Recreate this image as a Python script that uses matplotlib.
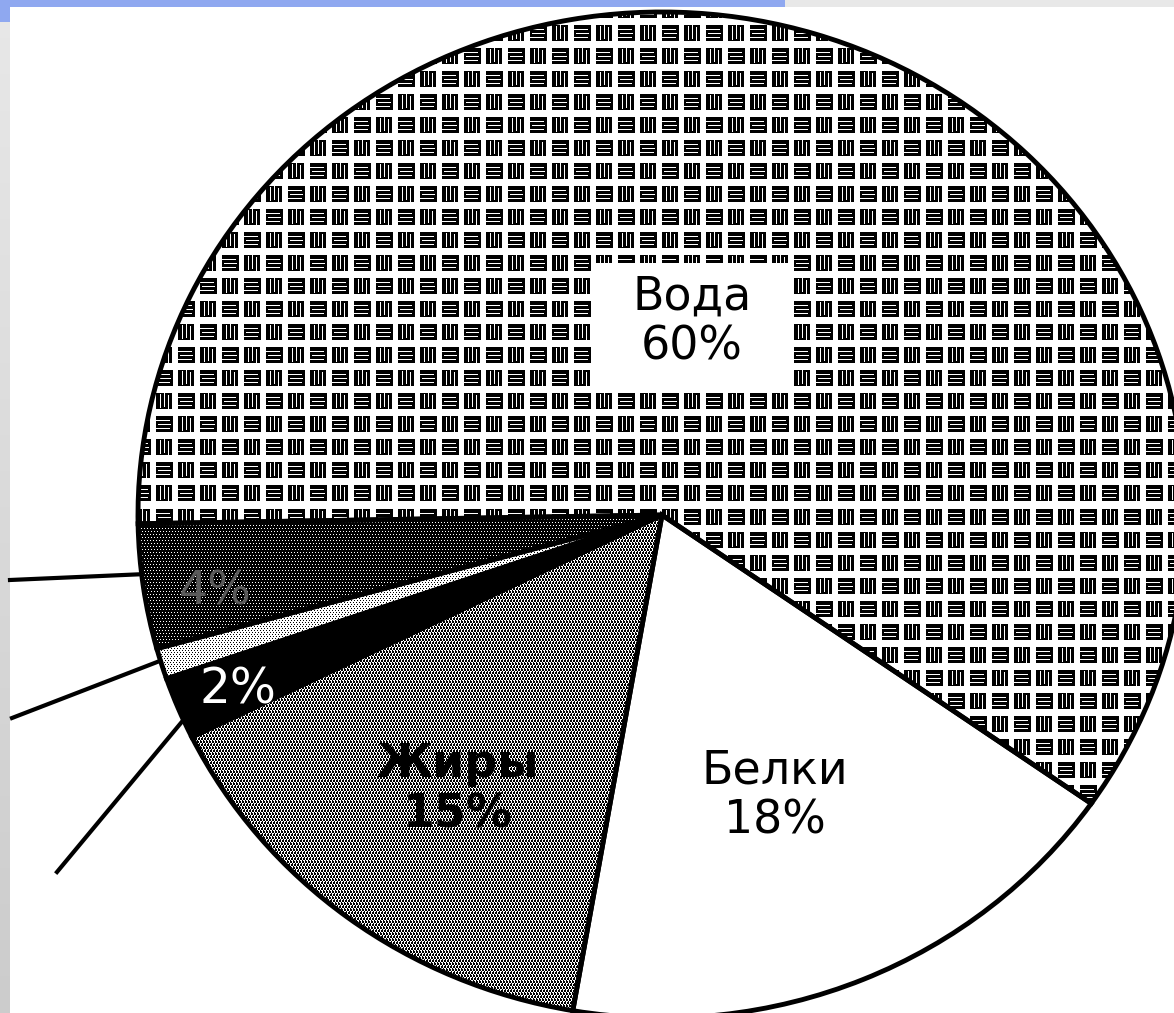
import numpy as np
import matplotlib.pyplot as plt
from matplotlib.patches import Rectangle

plt.rcParams['font.family'] = ['DejaVu Sans']

# доли веществ (%), против часовой стрелки начиная с воды
names = ['Вода', '', '', '', 'Жиры', 'Белки']
shares = [60, 4, 1, 2, 15, 18]
label_pos = [(692, 322), (215, 592), None, (238, 690), (458, 790), (775, 796)]
label_colors = ['black', '#5a5a5a', 'black', 'white', 'black', 'black']
textures = ['water', 'dark', 'light', 'black', 'dots', 'white']
# выноски к маленьким секторам: (номер сектора, доля по углу, внешний конец)
leaders = [(1, 0.4, (10, 580)), (2, 0.4, (12, 718)), (3, 0.7, (57, 872))]

W, H = 1174, 1013
cx, cy, rx, ry = 662, 515, 524, 503


def px(x, y):
    # пиксели картинки -> координаты осей
    return (x - cx) / rx, (cy - y) / ry


yy, xx = np.indices((H, W))


def texture(kind):
    if kind == 'water':
        tile = np.ones((23, 44))
        # блок из вертикальных штрихов
        tile[3:19, 2:18] = 0
        tile[4:18, 6] = 1
        tile[3:17, 10] = 1
        tile[5:19, 14] = 1
        # блок из горизонтальных штрихов
        tile[3:19, 24:41] = 0
        tile[7, 24:38] = 1
        tile[11, 26:39] = 1
        tile[15, 24:38] = 1
        shift = 22 * ((yy // 23) % 2)
        return tile[yy % 23, (xx + shift) % 44]
    if kind == 'dark':
        sx = xx + 2 * ((yy // 3) % 2)
        return (((sx % 3) == 0) & (yy % 3 == 0)).astype(float)
    if kind == 'dots':
        sx = xx + (yy // 3) % 2
        m = (((sx % 3) < 2) & ((yy % 3) < 2)) | (((sx % 3) == 2) & ((yy % 3) == 2))
        return 1.0 - m.astype(float)
    if kind == 'light':
        sx = xx + (yy // 2) % 2
        return 1.0 - (((sx % 3) == 0) & (yy % 2 == 0)).astype(float)
    if kind == 'black':
        return np.zeros((H, W))
    return np.ones((H, W))


fig = plt.figure(figsize=(W / 100, H / 100), dpi=100)

# фон слайда: серая полоса слева и синяя сверху
bg = np.ones((H, W, 3))
grad = np.linspace(0.91, 0.80, H)[:, None]
bg[:, :10, :] = grad[:, :, None]
bg[:7, :, :] = 0.91
bg[:7, :785, :] = [143 / 255, 168 / 255, 240 / 255]
bg[:22, :10, :] = [143 / 255, 168 / 255, 240 / 255]
fig.figimage(bg, xo=0, yo=0, origin='upper', zorder=-1)

ax = fig.add_axes([0, 0, 1, 1])
wedges, _ = ax.pie(shares, startangle=-35, colors=['none'] * len(shares),
                   wedgeprops=dict(edgecolor='black', linewidth=3.5), frame=False)
x0, y0 = px(0, H)
x1, y1 = px(W, 0)
ax.set_aspect('auto')
ax.set_xlim(x0, x1)
ax.set_ylim(y0, y1)
ax.axis('off')

for w, kind in zip(wedges, textures):
    w.set_zorder(2)
    im = ax.imshow(texture(kind), cmap='gray', vmin=0, vmax=1, extent=(x0, x1, y0, y1),
                   origin='upper', interpolation='nearest', zorder=1, aspect='auto')
    im.set_clip_path(w)

# выноски
for i, frac, (ex, ey) in leaders:
    w = wedges[i]
    a = np.deg2rad(w.theta1 + frac * (w.theta2 - w.theta1))
    sx, sy = px(ex, ey)
    ax.plot([sx, np.cos(a)], [sy, np.sin(a)], color='black', lw=3, zorder=3)

# белая плашка под подписью воды
bx, by = px(593, 393)
ax.add_patch(Rectangle((bx, by), 197 / rx, 130 / ry, facecolor='white', edgecolor='none', zorder=3))

for name, share, pos, col in zip(names, shares, label_pos, label_colors):
    if pos is None:
        continue
    txt = f'{name}\n{share}%' if name else f'{share}%'
    size = 35 if share == 2 else 33
    weight = 'bold' if name == 'Жиры' else 'normal'
    ax.text(*px(*pos), txt, ha='center', va='center', fontsize=size, color=col,
            fontweight=weight, linespacing=1.15, zorder=4)

fig.savefig('out.png', dpi=100)
